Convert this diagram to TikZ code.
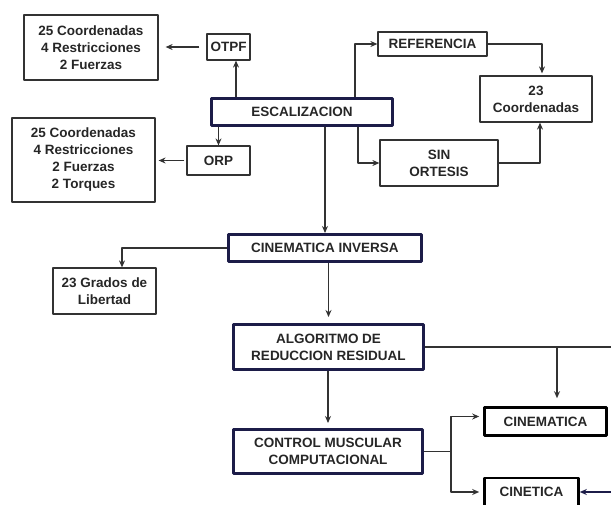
\documentclass[tikz,border=0pt]{standalone}
\usepackage{fontspec}
\setmainfont{Liberation Sans}
\usetikzlibrary{arrows.meta}
\definecolor{azul}{RGB}{28,28,72}
\definecolor{linea}{RGB}{50,50,50}
\tikzset{
  caja/.style={draw=linea, line width=1.2pt, align=center, inner sep=0pt,
    font=\bfseries\fontsize{13.5}{17}\selectfont, text=black!85},
  cajaazul/.style={caja, draw=azul, line width=3pt},
  cajanegra/.style={caja, draw=black, line width=2.6pt},
  flecha/.style={->, draw=linea, line width=1.2pt},
}
\begin{document}
\begin{tikzpicture}[x=1pt, y=-1pt, >={Stealth[length=7pt,width=6pt]}, line join=round]
\useasboundingbox (0,0) rectangle (611,504);
% Cajas
\node[cajaazul, minimum width=181pt, minimum height=27pt] (escal) at (302,112) {ESCALIZACION};
\node[caja, minimum width=134pt, minimum height=65pt] (c25a) at (91,47.5) {25 Coordenadas\\4 Restricciones\\2 Fuerzas};
\node[caja, minimum width=43pt, minimum height=26pt] (otpf) at (228.5,47) {OTPF};
\node[caja, minimum width=63pt, minimum height=29pt] (orp) at (218.5,160.5) {ORP};
\node[caja, minimum width=143pt, minimum height=84pt] (c25b) at (83.5,160) {25 Coordenadas\\4 Restricciones\\2 Fuerzas\\2 Torques};
\node[caja, minimum width=109pt, minimum height=24pt] (refer) at (432.5,44) {REFERENCIA};
\node[caja, minimum width=112pt, minimum height=46pt] (c23) at (536,99) {23\\Coordenadas};
\node[caja, minimum width=118pt, minimum height=46pt] (sin) at (439,163) {SIN\\ORTESIS};
\node[cajaazul, minimum width=193pt, minimum height=27pt] (cinv) at (325,248) {CINEMATICA INVERSA};
\node[caja, minimum width=103pt, minimum height=46pt] (grados) at (104.5,291) {23 Grados de\\Libertad};
\node[cajaazul, minimum width=190pt, minimum height=45pt] (alg) at (328.5,347) {ALGORITMO DE\\REDUCCION RESIDUAL};
\node[cajaazul, minimum width=189pt, minimum height=44pt] (ctrl) at (328,451.5) {CONTROL MUSCULAR\\COMPUTACIONAL};
\node[cajanegra, minimum width=122pt, minimum height=28pt] (cinem) at (545.5,421.5) {CINEMATICA};
\node[cajanegra, minimum width=94pt, minimum height=28pt] (cinet) at (531.5,492) {CINETICA};
% Conectores
\coordinate (ot) at (236,0);
\coordinate (rf) at (355,0);
\coordinate (so) at (358,0);
\coordinate (cn) at (542,0);
\coordinate (cs) at (540,0);
\coordinate (gl) at (122,0);
\draw[flecha] (escal.north -| ot) -- (otpf.south -| ot);
\draw[flecha, shorten <=7pt, shorten >=7pt] (otpf.west) -- (otpf.west -| c25a.east);
\draw[flecha] (escal.south -| orp) -- (orp.north);
\draw[flecha, shorten <=2pt, shorten >=3pt] (orp.west) -- (orp.west -| c25b.east);
\draw[flecha] (escal.north -| rf) |- (refer.west);
\draw[flecha, shorten >=2pt] (refer.east) -| (c23.north -| cn);
\draw[flecha] (escal.south -| so) |- (sin.west);
\draw[flecha] (sin.east) -| (c23.south -| cs);
\draw[flecha] (escal.south -| cinv.north) -- (cinv.north);
\draw[flecha] (cinv.west) -| (grados.north -| gl);
\draw[flecha, shorten >=6pt] (cinv.south -| alg.north) -- (alg.north);
\draw[flecha, shorten >=5pt] (alg.south -| ctrl.north) -- (ctrl.north);
\coordinate (bd) at (611,347);
\coordinate (ci) at (557,347);
\draw[linea, line width=1.2pt] (alg.east) -- (bd);
\draw[flecha, shorten >=8pt] (ci) -- (cinem.north -| ci);
\coordinate (jn) at (451,451.5);
\draw[linea, line width=1.2pt] (ctrl.east) -- (jn);
\draw[flecha, shorten >=4pt] (jn) |- ([yshift=5pt]cinem.west);
\draw[flecha, shorten >=4pt] (jn) |- (cinet.west);
\coordinate (be) at (611,492);
\draw[flecha, draw=azul] (be) -- (cinet.east);
\end{tikzpicture}
\end{document}
